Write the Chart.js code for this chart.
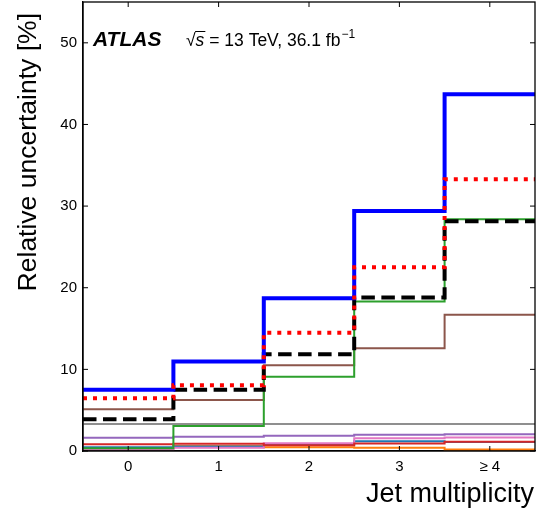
<!DOCTYPE html>
<html><head><meta charset="utf-8">
<script src="https://cdn.jsdelivr.net/npm/chart.js@4"></script>
<style>html,body{margin:0;padding:0;background:#fff}#wrap{width:543px;height:515px}</style>
</head><body><div id="wrap"><canvas id="c" width="543" height="515"></canvas></div>
<script>
const categories = ['0', '1', '2', '3', '\u2265 4'];
const binEdges = [-0.5, 0.5, 1.5, 2.5, 3.5, 4.5];
const yTickValues = [0, 10, 20, 30, 40, 50];

const totalUnc   = [7.5, 10.95, 18.7, 29.4, 43.7];
const dottedRed  = [6.45, 8.05, 14.5, 22.5, 33.3];
const dashedBlk  = [3.9, 7.5, 11.85, 18.8, 28.15];
const greenSrc   = [0.35, 3.05, 9.1, 18.3, 28.4];
const brownSrc   = [5.1, 6.25, 10.5, 12.6, 16.7];
const greySrc    = [3.3, 3.3, 3.3, 3.3, 3.3];
const purpleSrc  = [1.63, 1.75, 1.88, 2.0, 2.05];
const pinkSrc    = [0.2, 0.4, 0.95, 1.55, 1.65];
const steelSrc   = [0.45, 0.55, 0.8, 1.2, 1.1];
const redSrc     = [0.82, 0.88, 0.7, 0.92, 1.14];
const orangeSrc  = [0.3, 0.6, 0.45, 0.4, 0.17];

function steps(vals) {
  const pts = vals.map((v, i) => ({x: binEdges[i], y: v}));
  pts.push({x: binEdges[binEdges.length - 1], y: vals[vals.length - 1]});
  return pts;
}
function ds(vals, color, width, dash) {
  return {data: steps(vals), borderColor: color, borderWidth: width, borderDash: dash || [],
    borderCapStyle: 'butt', borderJoinStyle: 'miter', stepped: 'before', pointRadius: 0, fill: false};
}

const FONT = '"Liberation Sans", Arial, Helvetica, sans-serif';

const frame = {
  id: 'frame',
  afterDraw(chart) {
    const {ctx, chartArea: a, scales: {x, y}} = chart;
    ctx.save();
    ctx.strokeStyle = '#000';
    ctx.lineWidth = 1.3;
    ctx.strokeRect(a.left, a.top, a.right - a.left, a.bottom - a.top);
    ctx.lineWidth = 1;
    const line = (x1, y1, x2, y2) => { ctx.beginPath(); ctx.moveTo(x1, y1); ctx.lineTo(x2, y2); ctx.stroke(); };
    for (let i = 0; i < categories.length; i++) {
      const px = x.getPixelForValue(i);
      line(px, a.bottom, px, a.bottom - 5);
      line(px, a.top, px, a.top + 5);
    }
    yTickValues.forEach(v => {
      const py = y.getPixelForValue(v);
      line(a.left, py, a.left + 5, py);
      line(a.right, py, a.right - 5, py);
    });
    ctx.fillStyle = '#000';
    // y title
    ctx.save();
    ctx.translate(36, 13);
    ctx.rotate(-Math.PI / 2);
    ctx.font = '26.5px ' + FONT;
    ctx.textAlign = 'right';
    ctx.textBaseline = 'alphabetic';
    ctx.fillText('Relative uncertainty [%]', 0, 0);
    ctx.restore();
    // x title
    ctx.font = '27px ' + FONT;
    ctx.textAlign = 'right';
    ctx.textBaseline = 'alphabetic';
    ctx.fillText('Jet multiplicity', 534, 502);
    // ATLAS label
    ctx.textAlign = 'left';
    ctx.font = 'italic bold 21px ' + FONT;
    ctx.fillText('ATLAS', 93, 46);
    // sqrt(s) text
    let cx = 186;
    const by = 46;
    ctx.font = '17.5px ' + FONT;
    ctx.fillText('\u221A', cx, by);
    cx += ctx.measureText('\u221A').width;
    ctx.font = 'italic 17.5px ' + FONT;
    const sw = ctx.measureText('s').width;
    ctx.fillText('s', cx, by);
    ctx.lineWidth = 1;
    line(cx - 0.5, by - 14.5, cx + sw + 1, by - 14.5);
    cx += sw;
    ctx.font = '17.5px ' + FONT;
    const t = ' = 13 TeV, 36.1 fb';
    ctx.fillText(t, cx, by);
    cx += ctx.measureText(t).width + 1;
    ctx.font = '12px ' + FONT;
    ctx.fillText('\u22121', cx, by - 8);
    ctx.restore();
  }
};

new Chart(document.getElementById('c'), {
  type: 'line',
  data: {
    datasets: [
      ds(dottedRed, '#ff0000', 4, [4, 6]),
      ds(totalUnc, '#0000ff', 4),
      ds(dashedBlk, '#000000', 4, [13.5, 6.5]),
      ds(greenSrc, '#2ca02c', 2),
      ds(brownSrc, '#8c564b', 2),
      ds(greySrc, '#8f8f8f', 2),
      ds(purpleSrc, '#9467bd', 2),
      ds(redSrc, '#d62728', 2),
      ds(pinkSrc, '#e377c2', 2),
      ds(steelSrc, '#1f77b4', 2),
      ds(orangeSrc, '#ff7f0e', 2)
    ]
  },
  options: {
    responsive: false,
    animation: false,
    devicePixelRatio: 1,
    layout: {padding: {left: 0, right: 8, top: 2, bottom: 0}},
    plugins: {legend: {display: false}, tooltip: {enabled: false}},
    scales: {
      x: {
        type: 'linear', min: -0.5, max: 4.5,
        grid: {display: false, drawTicks: false, tickLength: 0},
        border: {display: true, color: '#000', width: 1.3},
        afterBuildTicks: s => { s.ticks = categories.map((c, i) => ({value: i})); },
        afterFit: s => { s.height = 64; s.paddingLeft = 0; s.paddingRight = 0; },
        ticks: {autoSkip: false, maxRotation: 0, padding: 7, color: '#000',
          font: {family: FONT, size: 15}, callback: v => categories[v]}
      },
      y: {
        type: 'linear', min: 0, max: 55,
        grid: {display: false, drawTicks: false, tickLength: 0},
        border: {display: true, color: '#000', width: 1.3},
        afterBuildTicks: s => { s.ticks = yTickValues.map(v => ({value: v})); },
        afterFit: s => { s.width = 83; s.paddingTop = 0; s.paddingBottom = 0; },
        ticks: {padding: 6, color: '#000', font: {family: FONT, size: 15}}
      }
    }
  },
  plugins: [frame]
});
</script>
</body></html>
